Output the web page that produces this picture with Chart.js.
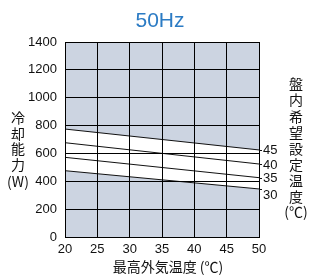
<!DOCTYPE html>
<html>
<head>
<meta charset="utf-8">
<script src="https://cdn.jsdelivr.net/npm/chart.js@4.4.0/dist/chart.umd.min.js"></script>
<style>
  html, body { margin: 0; padding: 0; background: #fff; }
  #wrap { width: 309px; height: 275px; }
</style>
</head>
<body>
<div id="wrap"><canvas id="grafico" width="309" height="275"></canvas></div>
<script>
// 外気温度 (x) と冷却能力 (W)
const temps = [20, 50];
const setTemps = ["45", "40", "35", "30"];
const cap45 = [775, 625];
const cap40 = [677, 524];
const cap35 = [572, 426];
const cap30 = [476, 345];
const xTicks = [20, 25, 30, 35, 40, 45, 50];
const yTicks = [0, 200, 400, 600, 800, 1000, 1200, 1400];

const jp = '"Noto Sans CJK JP", sans-serif';
const latin = '"Liberation Sans", Arial, sans-serif';

function pontos(vals) {
  return temps.map((t, i) => ({ x: t, y: vals[i] }));
}

const textos = {
  id: "textos",
  beforeDraw(chart) {
    const a = chart.chartArea;
    const ctx = chart.ctx;
    ctx.save();
    ctx.fillStyle = "#ccd4e1";
    ctx.fillRect(a.left, a.top, a.right - a.left, a.bottom - a.top);
    ctx.restore();
  },
  afterDraw(chart) {
    const ctx = chart.ctx;
    const y = chart.scales.y;
    const a = chart.chartArea;
    ctx.save();
    ctx.fillStyle = "#2b7bc4";
    ctx.font = "21px " + latin;
    ctx.textAlign = "center";
    ctx.textBaseline = "alphabetic";
    ctx.fillText("50Hz", 160, 27);

    ctx.fillStyle = "#111";
    ctx.font = "14px " + jp;
    ctx.textBaseline = "middle";
    ctx.fillText("最高外気温度 (℃)", 168, 267);

    "冷却能力".split("").forEach((c, i) => ctx.fillText(c, 18, 118 + i * 15.5));
    ctx.fillText("(W)", 18, 182);

    "盤内希望設定温度".split("").forEach((c, i) => ctx.fillText(c, 296, 84 + i * 16.1));
    ctx.fillText("(℃)", 296, 212);

    // 曲線ラベル
    const ultimos = [cap45, cap40, cap35, cap30];
    const desvio = [0, 1, 1, 6];
    ctx.font = "13px " + latin;
    ctx.textAlign = "left";
    ultimos.forEach((s, i) => {
      const ly = y.getPixelForValue(s[s.length - 1]);
      ctx.strokeStyle = "#111";
      ctx.lineWidth = 1;
      ctx.beginPath();
      ctx.moveTo(a.right, Math.round(ly) + 0.5);
      ctx.lineTo(a.right + 3, Math.round(ly) + 0.5);
      ctx.stroke();
      ctx.fillText(setTemps[i], a.right + 4, ly + desvio[i]);
    });
    ctx.restore();
  }
};

const serie = (vals, extra) => Object.assign({
  data: pontos(vals),
  borderColor: "#111",
  borderWidth: 1,
  pointRadius: 0,
  fill: false,
  tension: 0
}, extra || {});

new Chart(document.getElementById("grafico").getContext("2d"), {
  type: "line",
  data: {
    datasets: [
      serie(cap45),
      serie(cap40),
      serie(cap35),
      serie(cap30, { fill: 0, backgroundColor: "#ffffff" })
    ]
  },
  options: {
    responsive: false,
    animation: false,
    layout: { padding: { left: 0, right: 50, top: 42, bottom: 0 } },
    plugins: { legend: { display: false }, tooltip: { enabled: false } },
    scales: {
      x: {
        type: "linear",
        min: 20,
        max: 50,
        afterBuildTicks(s) { s.ticks = xTicks.map(v => ({ value: v })); },
        afterFit(s) { s.height = 38; },
        grid: { color: "#000", lineWidth: 1, drawTicks: false, z: 1 },
        border: { color: "#000", width: 1, z: 1 },
        ticks: { color: "#111", font: { family: latin, size: 13 }, padding: 5, maxRotation: 0,
          callback: v => String(v) }
      },
      y: {
        min: 0,
        max: 1400,
        afterBuildTicks(s) { s.ticks = yTicks.map(v => ({ value: v })); },
        afterFit(s) { s.width = 65; },
        grid: { color: "#000", lineWidth: 1, drawTicks: false, z: 1 },
        border: { color: "#000", width: 1, z: 1 },
        ticks: { color: "#111", font: { family: latin, size: 13 }, padding: 8,
          callback: v => String(v) }
      }
    }
  },
  plugins: [textos]
});
</script>
</body>
</html>
